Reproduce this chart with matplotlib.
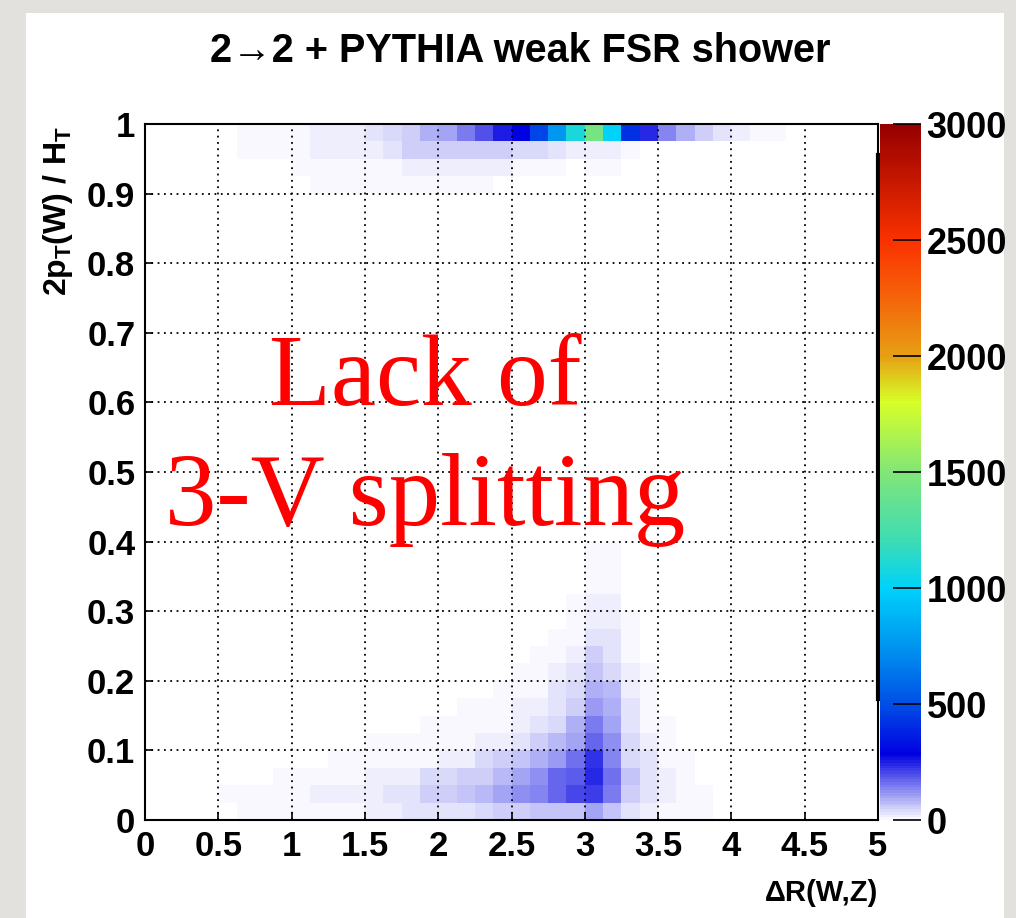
"""
2->2 + PYTHIA weak FSR shower : 2pT(W)/HT vs dR(W,Z), ROOT colz style
"""

import numpy as np
import matplotlib
matplotlib.use('Agg')
import matplotlib.pyplot as plt
from matplotlib.colors import LinearSegmentedColormap
from matplotlib.patches import Rectangle

# ===== binning =====
x_edges = np.linspace(0, 5, 41)   # dR(W,Z), 40 bins
y_edges = np.linspace(0, 1, 41)   # 2pT(W)/HT, 40 bins

# ===== bin contents =====
# one entry per filled y bin: its index, the first filled x bin, and the counts from there on
row_index = [0, 1, 2, 3, 4, 5, 6, 7, 8, 9, 10, 11, 12, 13, 14, 15, 36, 37, 38, 39]
row_first_bin = [5, 4, 7, 10, 12, 15, 17, 19, 20, 21, 22, 23, 23, 24, 24, 24, 9, 8, 5, 5]
row_counts = [
    [6, 6, 6, 6, 6, 11, 11, 17, 22, 28, 28, 34, 34, 39, 50, 56, 62, 67, 67, 95, 67, 34, 17, 11, 6, 6],
    [6, 6, 6, 11, 11, 17, 22, 22, 22, 28, 28, 56, 56, 67, 78, 101, 123, 140, 168, 202, 218, 151, 56, 34, 17, 6, 6],
    [6, 6, 6, 11, 11, 17, 17, 22, 39, 39, 50, 56, 73, 95, 123, 168, 185, 241, 157, 62, 28, 17, 6],
    [6, 6, 6, 6, 11, 11, 22, 22, 39, 50, 67, 84, 112, 157, 224, 134, 45, 28, 11, 6],
    [6, 6, 6, 6, 6, 11, 17, 22, 28, 56, 78, 101, 168, 123, 39, 17, 6],
    [6, 6, 6, 11, 11, 17, 28, 45, 84, 150, 101, 34, 11, 6],
    [6, 6, 11, 17, 17, 28, 56, 112, 90, 28, 6],
    [6, 6, 6, 28, 39, 90, 80, 17, 6],
    [6, 6, 17, 28, 62, 45, 17, 6],
    [6, 6, 17, 50, 34, 6],
    [6, 11, 28, 28, 6],
    [6, 22, 22, 6],
    [6, 17, 17],
    [6, 6],
    [6, 6],
    [6, 6],
    [6, 6, 6, 6, 6, 6, 6, 6, 6, 6],
    [6, 6, 6, 6, 6, 6, 17, 17, 17, 17, 17, 17, 6, 6, 6, 0, 6, 6],
    [6, 6, 6, 4, 17, 17, 17, 13, 28, 50, 50, 50, 50, 50, 56, 39, 39, 28, 17, 17, 17, 6],
    [6, 6, 6, 4, 17, 17, 17, 28, 39, 56, 84, 101, 146, 196, 252, 290, 470, 750, 1100, 1450,
     1000, 420, 235, 134, 90, 50, 28, 17, 6, 6],
]

z_max = 3000
cbar_ticks = [0, 500, 1000, 1500, 2000, 2500, 3000]
x_ticks = [0, 0.5, 1, 1.5, 2, 2.5, 3, 3.5, 4, 4.5, 5]
x_ticklabels = ['0', '0.5', '1', '1.5', '2', '2.5', '3', '3.5', '4', '4.5', '5']
y_ticks = [0, 0.1, 0.2, 0.3, 0.4, 0.5, 0.6, 0.7, 0.8, 0.9, 1]
y_ticklabels = ['0', '0.1', '0.2', '0.3', '0.4', '0.5', '0.6', '0.7', '0.8', '0.9', '1']

# ===== fill the 2D histogram =====
H = np.zeros((len(y_edges) - 1, len(x_edges) - 1))
for r, b0, vals in zip(row_index, row_first_bin, row_counts):
    H[r, b0:b0 + len(vals)] = vals
H = np.ma.masked_equal(H, 0)

# ROOT-like palette: white -> blue, then rainbow up to dark red
palette = LinearSegmentedColormap.from_list('root_pal', [
    (0.000, (248/255, 248/255, 254/255)),
    (0.093, (0.0, 0.0, 225/255)),
    (0.167, (0.0, 80/255, 230/255)),
    (0.250, (0.0, 150/255, 240/255)),
    (0.333, (0.0, 210/255, 250/255)),
    (0.400, (60/255, 220/255, 180/255)),
    (0.500, (130/255, 230/255, 120/255)),
    (0.600, (215/255, 1.0, 40/255)),
    (0.667, (230/255, 160/255, 20/255)),
    (0.750, (245/255, 100/255, 10/255)),
    (0.833, (250/255, 50/255, 0.0)),
    (1.000, (150/255, 0.0, 0.0)),
])

plt.rcParams['font.family'] = ['Liberation Sans', 'DejaVu Sans']
plt.rcParams['font.weight'] = 'bold'
plt.rcParams['mathtext.fontset'] = 'custom'
plt.rcParams['mathtext.rm'] = 'Liberation Sans:bold'
plt.rcParams['mathtext.it'] = 'Liberation Sans:bold'
plt.rcParams['mathtext.bf'] = 'Liberation Sans:bold'

W, Hpx = 1016, 918
fig = plt.figure(figsize=(W / 100, Hpx / 100), dpi=100, facecolor='#e3e1dd')
fig.add_artist(Rectangle((26 / W, 0), (1004 - 26) / W, (Hpx - 13) / Hpx,
                         transform=fig.transFigure, facecolor='white',
                         edgecolor='none', zorder=-10))

ax = fig.add_axes([145 / W, 98 / Hpx, 733 / W, 696 / Hpx])
mesh = ax.pcolormesh(x_edges, y_edges, H, cmap=palette, vmin=0, vmax=z_max, zorder=1)
ax.set_xlim(0, 5)
ax.set_ylim(0, 1)
ax.set_facecolor('white')

ax.set_xticks(x_ticks)
ax.set_xticklabels(x_ticklabels)
ax.set_yticks(y_ticks)
ax.set_yticklabels(y_ticklabels)
ax.tick_params(direction='in', length=6, width=1.2, labelsize=25, pad=7,
               top=False, right=False)
ax.grid(True, color='black', linestyle=(0, (1, 2.5)), linewidth=1.3, zorder=2)
ax.set_axisbelow(False)
for sp in ax.spines.values():
    sp.set_linewidth(1.5)
# heavier right frame segment seen in the original
ax.axvline(5, ymin=0.174, ymax=0.955, color='black', lw=3, zorder=3, clip_on=False)

fig.text(520 / W, 1 - 51 / Hpx, '2\u21922 + PYTHIA weak FSR shower',
         ha='center', va='center', fontsize=28.5, weight='bold')
fig.text(878 / W, 1 - 893 / Hpx, '\u0394R(W,Z)', ha='right', va='center',
         fontsize=21, weight='bold')
fig.text(58 / W, 1 - 126 / Hpx, r'$2p_{T}(W)\ /\ H_{T}$', rotation=90,
         ha='center', va='top', fontsize=23)

ax.text(1.91, 0.596, 'Lack of', color='red', fontsize=73,
        family=['Liberation Serif', 'DejaVu Serif'], weight='normal',
        ha='center', va='baseline', zorder=4)
ax.text(1.91, 0.424, '3-V splitting', color='red', fontsize=74,
        family=['Liberation Serif', 'DejaVu Serif'], weight='normal',
        ha='center', va='baseline', zorder=4)

cax = fig.add_axes([880 / W, 98 / Hpx, 41 / W, 696 / Hpx])
cb = fig.colorbar(mesh, cax=cax, ticks=cbar_ticks)
cb.outline.set_visible(False)
cax.tick_params(direction='in', length=20, width=1.2, labelsize=26, pad=4,
                right=True, left=False)

fig.savefig('out.png', dpi=100, facecolor=fig.get_facecolor())
